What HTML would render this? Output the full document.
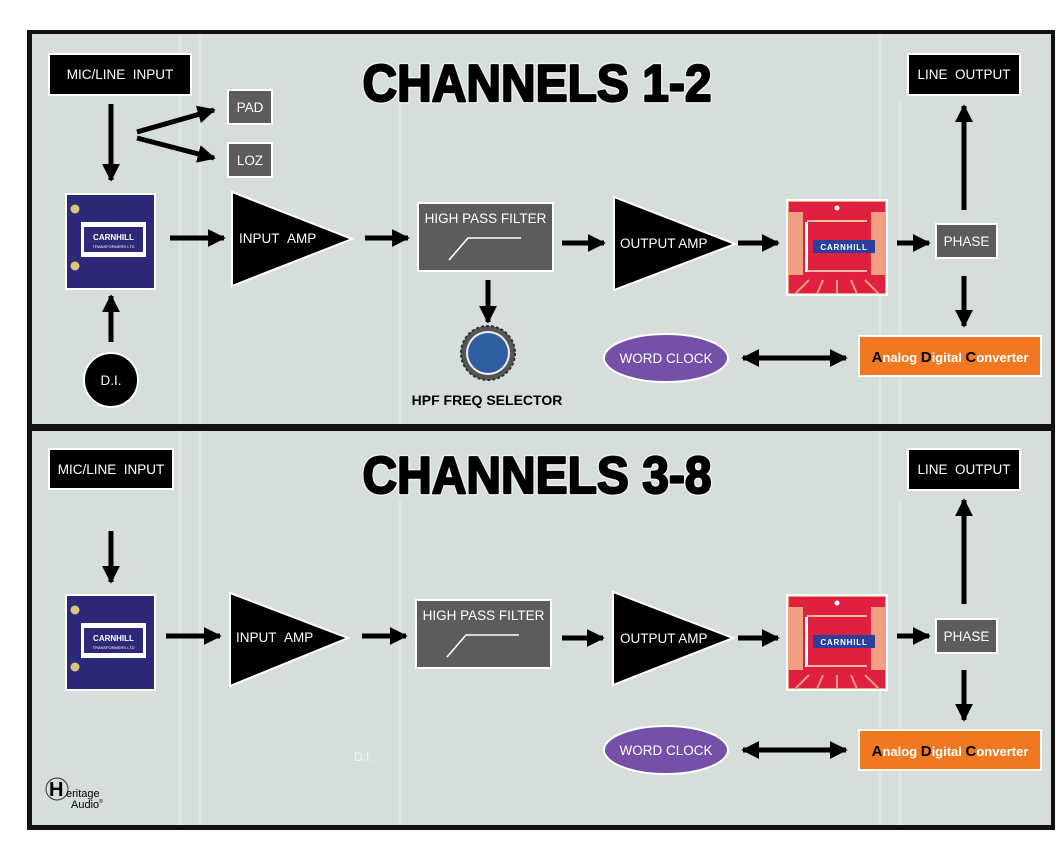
<!DOCTYPE html>
<html><head><meta charset="utf-8">
<style>
html,body{margin:0;padding:0;background:#fff;}
svg{display:block;}
text{font-family:"Liberation Sans",sans-serif;}
</style></head>
<body>
<svg width="1062" height="841" viewBox="0 0 1062 841" xmlns="http://www.w3.org/2000/svg">
<defs>
  <marker id="ah" viewBox="0 0 10 10" refX="9" refY="5" markerWidth="3.6" markerHeight="3.6" orient="auto-start-reverse" markerUnits="strokeWidth">
    <path d="M0,0 L10,5 L0,10 z" fill="#000"/>
  </marker>
  <g id="blue">
    <rect x="0" y="0" width="89" height="95" fill="#2c2a78" stroke="#fff" stroke-width="2"/>
    <circle cx="9" cy="15" r="4.5" fill="#d8c47a"/>
    <circle cx="9" cy="72" r="4.5" fill="#d8c47a"/>
    <rect x="15" y="28" width="65" height="35" fill="#fff"/>
    <rect x="18" y="33" width="59" height="25" fill="#2c2a78"/>
    <text x="47.5" y="46" font-family="Liberation Serif,serif" font-size="8" font-weight="bold" fill="#fff" text-anchor="middle">CARNHILL</text>
    <text x="47.5" y="54" font-size="4" fill="#fff" text-anchor="middle">TRANSFORMERS LTD</text>
  </g>
  <g id="red">
    <rect x="0" y="0" width="100" height="95" fill="#f0a080" stroke="#fff" stroke-width="2"/>
    <rect x="2" y="2" width="96" height="10" fill="#e02040"/>
    <rect x="16" y="12" width="68" height="72" fill="#e02040"/>
    <rect x="2" y="75" width="96" height="18" fill="#e02040"/>
    <circle cx="50" cy="8" r="2.5" fill="#fff"/>
    <rect x="18" y="22" width="3" height="50" fill="#fff"/>
    <rect x="20" y="20" width="60" height="2" fill="#f6c0a0"/>
    <rect x="20" y="70" width="60" height="2" fill="#f6c0a0"/>
    <rect x="26" y="40" width="62" height="13" fill="#2c3f9a"/>
    <text x="57" y="50" font-family="Liberation Serif,serif" font-size="8" font-weight="bold" fill="#fff" text-anchor="middle" letter-spacing="0.8">CARNHILL</text>
    <path d="M22,80 L8,94 M36,80 L30,94 M50,80 L50,94 M64,80 L70,94 M78,80 L92,94" stroke="#f0a080" stroke-width="2" fill="none"/>
  </g>
  <g id="hpf">
    <rect x="0" y="0" width="135" height="68" fill="#5c5c5c" stroke="#fff" stroke-width="2"/>
    <text x="67.5" y="20" font-size="13.5" fill="#fff" text-anchor="middle">HIGH PASS FILTER</text>
    <path d="M31,57 L50,35 L103,35" stroke="#fff" stroke-width="1.6" fill="none"/>
  </g>
</defs>

<rect x="0" y="0" width="1062" height="841" fill="#fff"/>
<rect x="27" y="30" width="1028" height="800" fill="#111"/>
<rect x="32" y="34" width="1019" height="390" fill="#d6dedb"/>
<rect x="32" y="431" width="1019" height="394" fill="#d6dedb"/>
<g stroke="#dfe6e3" stroke-width="3" fill="none">
  <path d="M180,34 L180,424 M200,34 L200,424 M400,100 L400,424 M880,34 L880,424 M900,100 L900,424"/>
  <path d="M180,431 L180,825 M200,431 L200,825 M400,500 L400,825 M880,431 L880,825 M900,500 L900,825"/>
</g>

<!-- ===== TOP PANEL ===== -->
<text x="537" y="101" font-size="52" font-weight="bold" fill="#fff" stroke="#fff" stroke-width="5" stroke-linejoin="round" text-anchor="middle" textLength="349" lengthAdjust="spacingAndGlyphs" opacity="0.6">CHANNELS 1-2</text>
<text x="537" y="101" font-size="52" font-weight="bold" fill="#000" stroke="#000" stroke-width="2.2" stroke-linejoin="round" text-anchor="middle" textLength="349" lengthAdjust="spacingAndGlyphs">CHANNELS 1-2</text>

<rect x="49" y="54" width="142" height="41" fill="#000" stroke="#fff" stroke-width="2"/>
<text x="120" y="79" font-size="13.5" fill="#fff" text-anchor="middle">MIC/LINE&#160;&#160;INPUT</text>

<line x1="111" y1="104" x2="111" y2="180" stroke="#000" stroke-width="5" marker-end="url(#ah)"/>
<line x1="137" y1="132" x2="214" y2="110" stroke="#000" stroke-width="5" marker-end="url(#ah)"/>
<line x1="137" y1="138" x2="214" y2="158" stroke="#000" stroke-width="5" marker-end="url(#ah)"/>

<rect x="228" y="90" width="44" height="34" fill="#5c5c5c" stroke="#fff" stroke-width="2"/>
<text x="250" y="112" font-size="13.5" fill="#fff" text-anchor="middle">PAD</text>
<rect x="228" y="143" width="44" height="34" fill="#5c5c5c" stroke="#fff" stroke-width="2"/>
<text x="250" y="165" font-size="13.5" fill="#fff" text-anchor="middle">LOZ</text>

<use href="#blue" x="66" y="194"/>
<line x1="111" y1="342" x2="111" y2="296" stroke="#000" stroke-width="5" marker-end="url(#ah)"/>
<circle cx="111" cy="380" r="27" fill="#000" stroke="#fff" stroke-width="2"/>
<text x="111" y="385" font-size="13.5" fill="#fff" text-anchor="middle">D.I.</text>

<line x1="170" y1="238" x2="224" y2="238" stroke="#000" stroke-width="5" marker-end="url(#ah)"/>
<polygon points="232,192 232,286 352,239" fill="#000" stroke="#fff" stroke-width="2"/>
<text x="239" y="243" font-size="13.5" fill="#fff">INPUT&#160;&#160;AMP</text>

<line x1="365" y1="238" x2="408" y2="238" stroke="#000" stroke-width="5" marker-end="url(#ah)"/>
<use href="#hpf" x="418" y="203"/>
<line x1="488" y1="280" x2="488" y2="322" stroke="#000" stroke-width="5" marker-end="url(#ah)"/>
<circle cx="488" cy="353" r="27" fill="#555" stroke="#333" stroke-width="2" stroke-dasharray="3 2"/>
<circle cx="488" cy="353" r="22" fill="#eee"/>
<circle cx="488" cy="353" r="20" fill="#2f5fa0"/>
<text x="487" y="405" font-size="14" font-weight="bold" fill="#000" text-anchor="middle">HPF FREQ SELECTOR</text>

<line x1="562" y1="243" x2="604" y2="243" stroke="#000" stroke-width="5" marker-end="url(#ah)"/>
<polygon points="614,197 614,290 735,244" fill="#000" stroke="#fff" stroke-width="2"/>
<text x="620" y="248" font-size="13.5" fill="#fff">OUTPUT AMP</text>

<line x1="738" y1="243" x2="778" y2="243" stroke="#000" stroke-width="5" marker-end="url(#ah)"/>
<use href="#red" x="787" y="200"/>
<line x1="897" y1="243" x2="929" y2="243" stroke="#000" stroke-width="5" marker-end="url(#ah)"/>
<rect x="936" y="224" width="61" height="34" fill="#5c5c5c" stroke="#fff" stroke-width="2"/>
<text x="966.5" y="246" font-size="13.5" fill="#fff" text-anchor="middle">PHASE</text>

<line x1="964" y1="210" x2="964" y2="106" stroke="#000" stroke-width="5" marker-end="url(#ah)"/>
<rect x="908" y="54" width="112" height="41" fill="#000" stroke="#fff" stroke-width="2"/>
<text x="964" y="79" font-size="13.5" fill="#fff" text-anchor="middle">LINE&#160;&#160;OUTPUT</text>

<line x1="964" y1="276" x2="964" y2="326" stroke="#000" stroke-width="5" marker-end="url(#ah)"/>
<rect x="859" y="336" width="182" height="40" fill="#f07820" stroke="#fff" stroke-width="2"/>
<text x="950" y="362" font-size="13" font-weight="bold" fill="#fff" text-anchor="middle"><tspan fill="#000" font-size="15">A</tspan>nalog <tspan fill="#000" font-size="15">D</tspan>igital <tspan fill="#000" font-size="15">C</tspan>onverter</text>

<line x1="743" y1="358" x2="846" y2="358" stroke="#000" stroke-width="5" marker-start="url(#ah)" marker-end="url(#ah)"/>
<ellipse cx="666" cy="358" rx="62" ry="24" fill="#7450a8" stroke="#fff" stroke-width="2"/>
<text x="666" y="363" font-size="13.5" fill="#fff" text-anchor="middle">WORD CLOCK</text>

<!-- ===== BOTTOM PANEL ===== -->
<text x="537" y="493" font-size="52" font-weight="bold" fill="#fff" stroke="#fff" stroke-width="5" stroke-linejoin="round" text-anchor="middle" textLength="349" lengthAdjust="spacingAndGlyphs" opacity="0.6">CHANNELS 3-8</text>
<text x="537" y="493" font-size="52" font-weight="bold" fill="#000" stroke="#000" stroke-width="2.2" stroke-linejoin="round" text-anchor="middle" textLength="349" lengthAdjust="spacingAndGlyphs">CHANNELS 3-8</text>

<rect x="49" y="449" width="124" height="40" fill="#000" stroke="#fff" stroke-width="2"/>
<text x="111" y="474" font-size="13.5" fill="#fff" text-anchor="middle">MIC/LINE&#160;&#160;INPUT</text>
<line x1="111" y1="531" x2="111" y2="582" stroke="#000" stroke-width="5" marker-end="url(#ah)"/>

<use href="#blue" x="66" y="595"/>
<line x1="166" y1="636" x2="220" y2="636" stroke="#000" stroke-width="5" marker-end="url(#ah)"/>
<polygon points="230,593 230,686 348,638" fill="#000" stroke="#fff" stroke-width="2"/>
<text x="236" y="642" font-size="13.5" fill="#fff">INPUT&#160;&#160;AMP</text>

<line x1="362" y1="636" x2="406" y2="636" stroke="#000" stroke-width="5" marker-end="url(#ah)"/>
<use href="#hpf" x="416" y="600"/>

<line x1="562" y1="638" x2="603" y2="638" stroke="#000" stroke-width="5" marker-end="url(#ah)"/>
<polygon points="613,592 613,685 733,638" fill="#000" stroke="#fff" stroke-width="2"/>
<text x="620" y="643" font-size="13.5" fill="#fff">OUTPUT AMP</text>

<line x1="738" y1="638" x2="778" y2="638" stroke="#000" stroke-width="5" marker-end="url(#ah)"/>
<use href="#red" x="787" y="595"/>
<line x1="897" y1="636" x2="929" y2="636" stroke="#000" stroke-width="5" marker-end="url(#ah)"/>
<rect x="936" y="619" width="61" height="34" fill="#5c5c5c" stroke="#fff" stroke-width="2"/>
<text x="966.5" y="641" font-size="13.5" fill="#fff" text-anchor="middle">PHASE</text>

<line x1="964" y1="604" x2="964" y2="500" stroke="#000" stroke-width="5" marker-end="url(#ah)"/>
<rect x="908" y="449" width="112" height="41" fill="#000" stroke="#fff" stroke-width="2"/>
<text x="964" y="474" font-size="13.5" fill="#fff" text-anchor="middle">LINE&#160;&#160;OUTPUT</text>

<line x1="964" y1="670" x2="964" y2="720" stroke="#000" stroke-width="5" marker-end="url(#ah)"/>
<rect x="859" y="730" width="182" height="40" fill="#f07820" stroke="#fff" stroke-width="2"/>
<text x="950" y="756" font-size="13" font-weight="bold" fill="#fff" text-anchor="middle"><tspan fill="#000" font-size="15">A</tspan>nalog <tspan fill="#000" font-size="15">D</tspan>igital <tspan fill="#000" font-size="15">C</tspan>onverter</text>

<line x1="743" y1="750" x2="846" y2="750" stroke="#000" stroke-width="5" marker-start="url(#ah)" marker-end="url(#ah)"/>
<ellipse cx="666" cy="750" rx="62" ry="24" fill="#7450a8" stroke="#fff" stroke-width="2"/>
<text x="666" y="755" font-size="13.5" fill="#fff" text-anchor="middle">WORD CLOCK</text>

<text x="354" y="761" font-size="12" fill="#f4f7f6">D.I.</text>

<!-- Heritage logo -->
<circle cx="57" cy="789" r="11" fill="none" stroke="#333" stroke-width="1"/>
<text x="49" y="796" font-size="20" font-weight="bold" fill="#000">H</text>
<text x="66" y="797" font-size="11" fill="#000">eritage</text>
<text x="71" y="808" font-size="11" fill="#000">Audio<tspan font-size="5" dy="-5">®</tspan></text>
</svg>
</body></html>
